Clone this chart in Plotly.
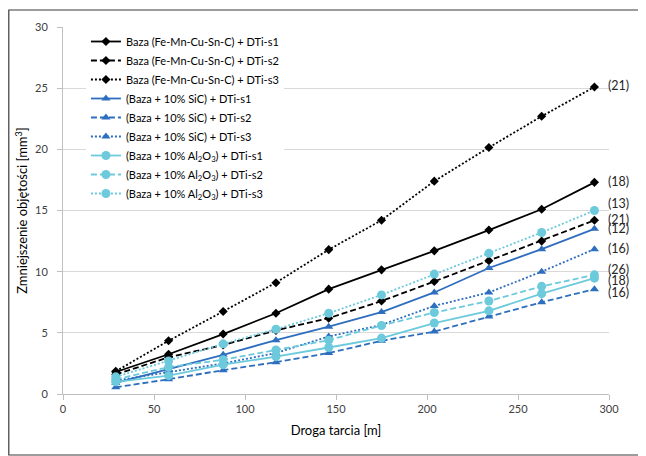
import plotly.graph_objects as go

distance = [29, 58, 88, 117, 146, 175, 204, 234, 263, 292]

baza_s1 = [1.8, 3.25, 4.9, 6.6, 8.57, 10.15, 11.7, 13.4, 15.1, 17.3]
baza_s2 = [1.6, 3.0, 4.0, 5.2, 6.2, 7.6, 9.2, 10.9, 12.5, 14.2]
baza_s3 = [1.85, 4.35, 6.75, 9.1, 11.8, 14.2, 17.4, 20.15, 22.7, 25.1]

sic_s1 = [0.9, 2.0, 3.2, 4.4, 5.5, 6.7, 8.3, 10.3, 11.84, 13.5]
sic_s2 = [0.55, 1.2, 1.95, 2.6, 3.35, 4.35, 5.1, 6.33, 7.5, 8.57]
sic_s3 = [1.1, 1.8, 2.5, 3.35, 4.7, 5.65, 7.2, 8.3, 10.0, 11.84]

al_s1 = [1.0, 1.5, 2.4, 3.05, 3.8, 4.57, 5.8, 6.8, 8.2, 9.47]
al_s2 = [1.2, 2.2, 2.8, 3.6, 4.4, 5.6, 6.66, 7.6, 8.8, 9.74]
al_s3 = [1.4, 2.7, 4.1, 5.3, 6.6, 8.1, 9.8, 11.5, 13.2, 15.0]

names = [
    "Baza (Fe-Mn-Cu-Sn-C) + DTi-s1",
    "Baza (Fe-Mn-Cu-Sn-C) + DTi-s2",
    "Baza (Fe-Mn-Cu-Sn-C) + DTi-s3",
    "(Baza + 10% SiC) + DTi-s1",
    "(Baza + 10% SiC) + DTi-s2",
    "(Baza + 10% SiC) + DTi-s3",
    "(Baza + 10% Al<sub>2</sub>O<sub>3</sub>) + DTi-s1",
    "(Baza + 10% Al<sub>2</sub>O<sub>3</sub>) + DTi-s2",
    "(Baza + 10% Al<sub>2</sub>O<sub>3</sub>) + DTi-s3",
]
series = [baza_s1, baza_s2, baza_s3, sic_s1, sic_s2, sic_s3, al_s1, al_s2, al_s3]

end_labels = ["(21)", "(18)", "(13)", "(21)", "(12)", "(16)", "(26)", "(18)", "(16)"]
end_label_y = [25.2, 17.35, 15.56, 14.3, 13.5, 11.86, 10.2, 9.25, 8.3]

BLACK = "#000000"
BLUE = "#2E6EBE"
LIGHT = "#6CCADC"
colors = [BLACK] * 3 + [BLUE] * 3 + [LIGHT] * 3
symbols = ["diamond"] * 3 + ["triangle-up"] * 3 + ["circle"] * 3
sizes = [7] * 3 + [8] * 3 + [9] * 3
dashes = ["solid", "6px,3px", "2px,2px"] * 3

fig = go.Figure()
for nm, ys, c, s, sz, d in zip(names, series, colors, symbols, sizes, dashes):
    fig.add_trace(go.Scatter(
        x=distance, y=ys, name=nm, mode="lines+markers",
        line=dict(color=c, width=1.8, dash=d),
        marker=dict(color=c, symbol=s, size=sz),
    ))

for lab, yv in zip(end_labels, end_label_y):
    fig.add_annotation(x=0.995, xref="paper", y=yv, yref="y", text=lab,
                       showarrow=False, xanchor="left", yanchor="middle",
                       font=dict(size=12.5, color="#262626"))

# figure is drawn inside the page's 8px body margin
W, H = 638, 448
ML, MR, MT, MB = 55, 37, 19, 62
PW, PH = W - ML - MR, H - MT - MB

# outer frame
fig.add_shape(type="rect", xref="paper", yref="paper", layer="above",
              x0=(0.8 - ML) / PW, x1=(632 - ML) / PW,
              y0=(PH + MT - 447) / PH, y1=(PH + MT - 2) / PH,
              line=dict(color="#3A3A3A", width=1.2),
              fillcolor="rgba(0,0,0,0)")

fig.update_layout(
    width=W, height=H,
    margin=dict(l=ML, r=MR, t=MT, b=MB, autoexpand=False),
    paper_bgcolor="white", plot_bgcolor="white",
    font=dict(family="Lato, Open Sans, sans-serif", color="#404040", size=11),
    showlegend=True,
    legend=dict(x=0.042, y=1.0, xanchor="left", yanchor="top",
                bgcolor="white", font=dict(size=11, color="#000000"),
                tracegroupgap=0, itemwidth=30),
    xaxis=dict(range=[0, 300], tickvals=[0, 50, 100, 150, 200, 250, 300],
               showgrid=False, showline=True, linecolor="#BFBFBF",
               ticks="outside", ticklen=5, tickcolor="#BFBFBF",
               tickfont=dict(size=11, color="#404040"),
               title=dict(text="Droga tarcia [m]", font=dict(size=13, color="#000000"), standoff=11),
               zeroline=False),
    yaxis=dict(range=[0, 30], tickvals=[0, 5, 10, 15, 20, 25, 30],
               showgrid=True, gridcolor="#D9D9D9", gridwidth=1,
               showline=True, linecolor="#BFBFBF",
               ticks="outside", ticklen=5, tickcolor="#BFBFBF",
               ticklabelstandoff=7,
               tickfont=dict(size=11, color="#404040"),
               title=dict(text="Zmniejszenie objętości [mm<sup>3</sup>]",
                          font=dict(size=13, color="#000000"), standoff=4),
               zeroline=False),
)

fig.write_html("out.html")
